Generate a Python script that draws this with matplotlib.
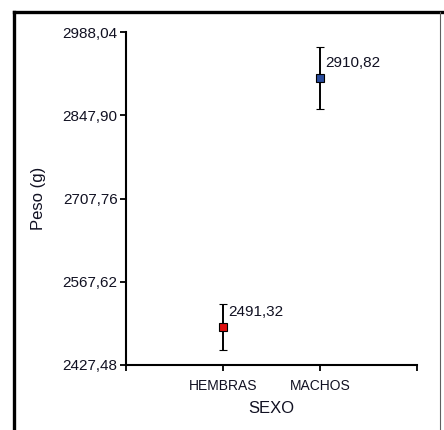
import matplotlib.pyplot as plt
from matplotlib.lines import Line2D
import numpy as np

plt.rcParams['font.family'] = ['Liberation Sans', 'DejaVu Sans']

# datos
sexo = ['HEMBRAS', 'MACHOS']
peso = [2491.32, 2910.82]
error = [38.7, 52.0]
colores = ['#e01010', '#2a4c9c']
y_ticks = [2427.48, 2567.62, 2707.76, 2847.90, 2988.04]

fig = plt.figure(figsize=(4.44, 4.30), dpi=100)
ax = fig.add_axes([126/444, 1 - 365/430, (417 - 126)/444, (365 - 32)/430])

x = np.arange(1, len(sexo) + 1)
for i in range(len(sexo)):
    ax.errorbar(x[i], peso[i], yerr=error[i], fmt='s', color='black', ecolor='black',
                elinewidth=1.4, capsize=3.2, capthick=1.4, markersize=6.3,
                markerfacecolor=colores[i], markeredgecolor='black', markeredgewidth=0.8)
    ax.annotate(f'{peso[i]:.2f}'.replace('.', ','), (x[i], peso[i]),
                xytext=(4, 10.5), textcoords='offset points', ha='left', va='center',
                fontsize=11, color='#111122')

ax.set_xlim(0, len(sexo) + 1)
ax.set_ylim(y_ticks[0], y_ticks[-1])
ax.set_xticks(range(0, len(sexo) + 2))
ax.set_xticklabels([''] + sexo + [''], fontsize=10, color='#111122')
ax.set_yticks(y_ticks)
ax.set_yticklabels([f'{v:.2f}'.replace('.', ',') for v in y_ticks], fontsize=11, color='#111122')
ax.tick_params(direction='out', length=4, width=1.3)
ax.tick_params(axis='x', pad=6)
ax.tick_params(axis='y', pad=2)
ax.spines['top'].set_visible(False)
ax.spines['right'].set_visible(False)
ax.spines['left'].set_linewidth(1.5)
ax.spines['bottom'].set_linewidth(1.5)
ax.set_xlabel('SEXO', fontsize=12, labelpad=6, color='#111122')
ax.set_ylabel('Peso (g)', fontsize=12, labelpad=12, color='#111122')

# marco de la figura
W, H = 444, 430
fig.add_artist(Line2D([14/W, 14/W], [0, 1 - 12/H], color='black', lw=2.4, transform=fig.transFigure))
fig.add_artist(Line2D([14/W, 1], [1 - 12/H, 1 - 12/H], color='black', lw=2.4, transform=fig.transFigure))
fig.add_artist(Line2D([440/W, 440/W], [0, 1 - 12/H], color='#606060', lw=0.8, transform=fig.transFigure))

fig.savefig('out.png', dpi=100)
